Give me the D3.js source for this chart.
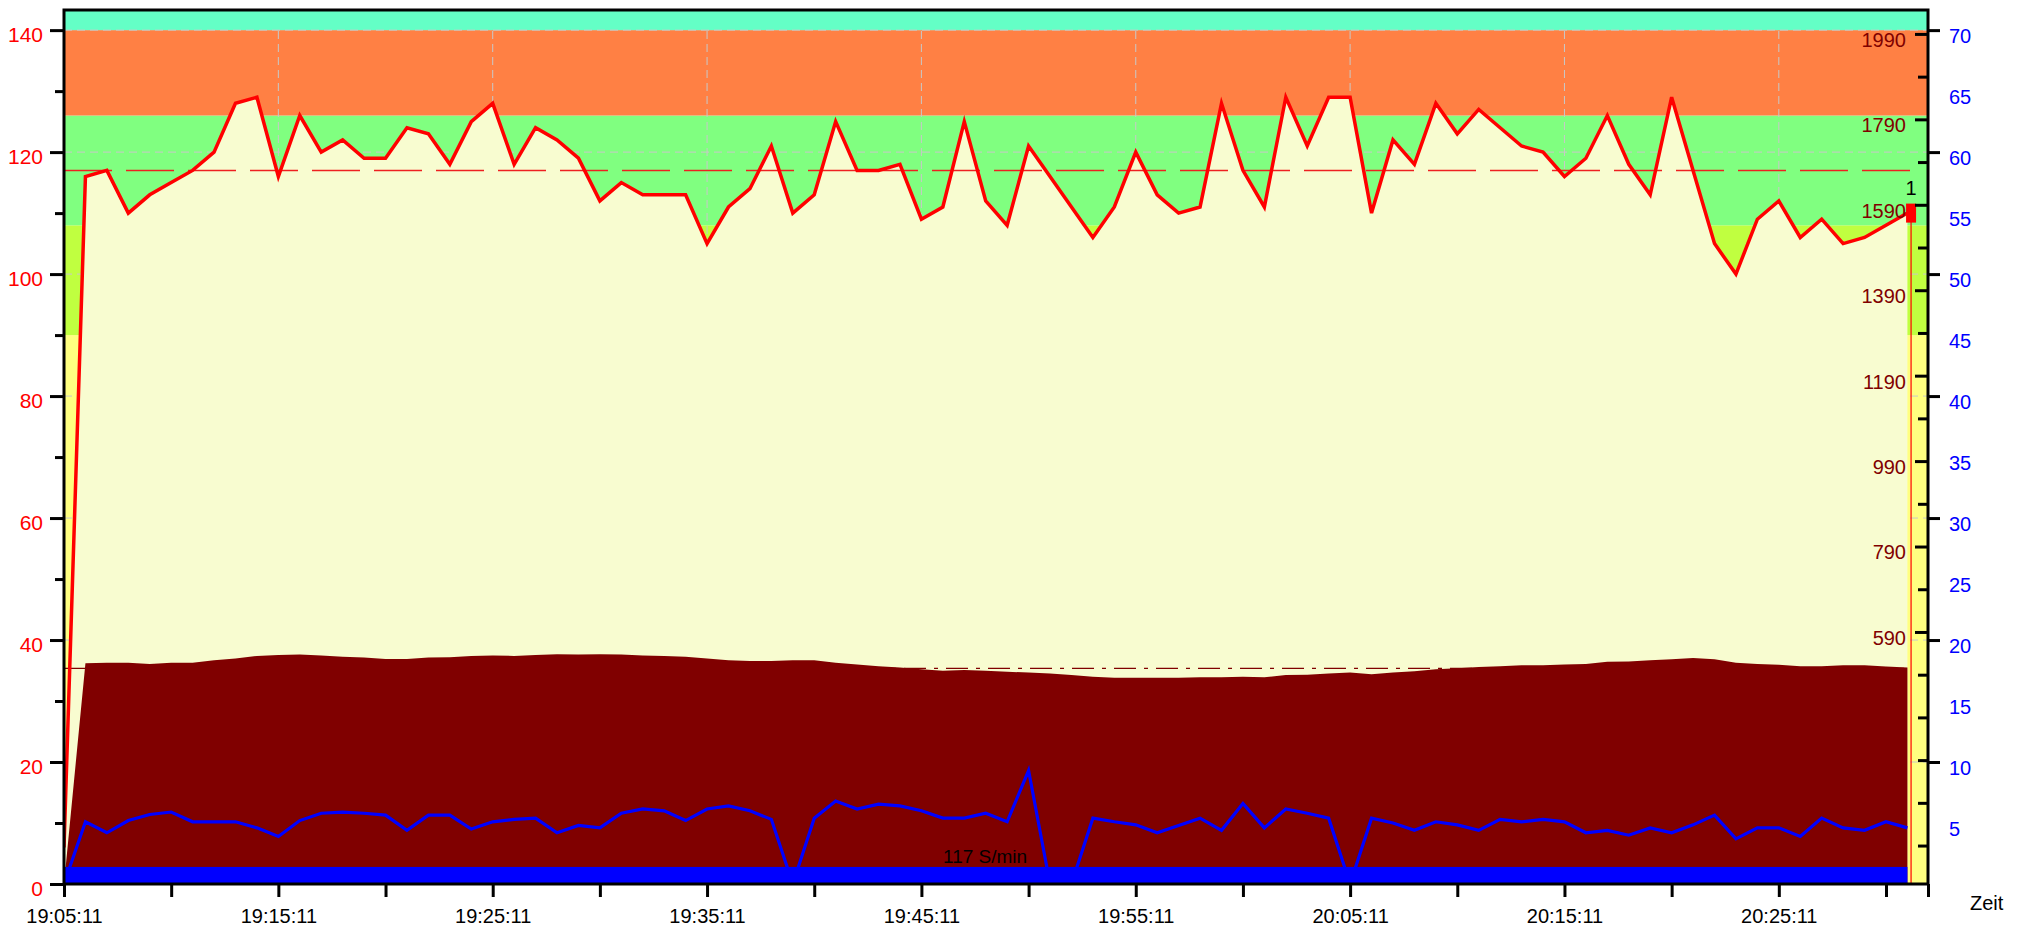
<!DOCTYPE html>
<html>
<head>
<meta charset="utf-8">
<script src="https://cdn.jsdelivr.net/npm/d3@7"></script>
<style>
	body { margin: 0; background: #fff; }
	svg text { font-family: "Liberation Sans", Arial, sans-serif; }
</style>
</head>
<body>
<div id="chart"></div>
<script>
// one sample per minute, starting 19:05:11
var heartRate = [6, 116, 117, 110, 113, 115, 117, 120, 128, 129,
	116, 126, 120, 122, 119, 119, 124, 123, 118, 125,
	128, 118, 124, 122, 119, 112, 115, 113, 113, 113,
	105, 111, 114, 121, 110, 113, 125, 117, 117, 118,
	109, 111, 125, 112, 108, 121, 116, 111, 106, 111,
	120, 113, 110, 111, 128, 117, 111, 129, 121, 129,
	129, 110, 122, 118, 128, 123, 127, 124, 121, 120,
	116, 119, 126, 118, 113, 129, 117, 105, 100, 109,
	112, 106, 109, 105, 106, 108, 110];

var speed = [0, 5.1, 4.2, 5.2, 5.7, 5.9, 5.1, 5.1, 5.1, 4.6,
	3.9, 5.2, 5.8, 5.9, 5.8, 5.65, 4.4, 5.65, 5.65, 4.5,
	5.1, 5.3, 5.4, 4.2, 4.8, 4.6, 5.8, 6.15, 6.0, 5.2,
	6.15, 6.4, 6.0, 5.3, 0, 5.4, 6.8, 6.15, 6.55, 6.4,
	6.0, 5.4, 5.4, 5.8, 5.1, 9.3, 0, 0, 5.4, 5.1,
	4.85, 4.2, 4.8, 5.4, 4.4, 6.6, 4.6, 6.15, 5.8, 5.4,
	0, 5.4, 5.0, 4.4, 5.1, 4.85, 4.4, 5.3, 5.1, 5.3,
	5.1, 4.2, 4.4, 4.0, 4.6, 4.2, 4.85, 5.65, 3.7, 4.6,
	4.6, 3.9, 5.4, 4.6, 4.4, 5.1, 4.6];

var altitude = [0, 517, 518, 518, 515, 518, 518, 524, 528, 534,
	536, 537, 535, 532, 530, 527, 527, 530, 531, 534,
	535, 534, 536, 538, 537, 538, 537, 535, 534, 532,
	528, 524, 522, 522, 524, 524, 518, 514, 510, 507,
	503, 499, 501, 499, 497, 495, 493, 489, 485, 483,
	483, 483, 483, 484, 484, 485, 484, 489, 490, 493,
	495, 491, 495, 498, 503, 505, 508, 510, 512, 512,
	514, 515, 520, 521, 524, 526, 529, 526, 518, 515,
	513, 510, 510, 512, 512, 509, 507];

var avgHeartRate = 117;
var avgAltitude = 505;
var speedBase = 1.4;

var lapMinutes = [86.17];
var lapHeart = [110];
var lapNames = ["1"];

// heart rate zones
var zoneLimits = [0, 90, 108, 126, 140, 143.3];
var zoneColors = ["#ffff80", "#c0ff40", "#80ff80", "#ff8044", "#64ffc6"];

var timeTicks = [0, 5, 10, 15, 20, 25, 30, 35, 40, 45, 50, 55, 60, 65, 70, 75, 80, 85];
var timeLabels = ["19:05:11", "19:15:11", "19:25:11", "19:35:11", "19:45:11", "19:55:11", "20:05:11", "20:15:11", "20:25:11"];
var hrMajor = [0, 20, 40, 60, 80, 100, 120, 140];
var hrMinor = [10, 30, 50, 70, 90, 110, 130];
var altMajor = [590, 790, 990, 1190, 1390, 1590, 1790, 1990];
var altMinor = [90, 190, 290, 390, 490, 690, 890, 1090, 1290, 1490, 1690, 1890];
var speedTicks = [10, 20, 30, 40, 50, 60, 70];
var speedLabels = [5, 10, 15, 20, 25, 30, 35, 40, 45, 50, 55, 60, 65, 70];

function drawChart() {
	var width = 2018,
		height = 929;
	var pLeft = 64, pRight = 1928, pTop = 10, pBottom = 884;
	var tMax = 86.96;

	var svg = d3.select("#chart").append("svg")
		.attr("width", width)
		.attr("height", height);

	svg.append("clipPath")
		.attr("id", "plotClip")
		.append("rect")
			.attr("x", pLeft).attr("y", pTop)
			.attr("width", pRight - pLeft).attr("height", pBottom - pTop);

	var x = d3.scaleLinear().domain([0, tMax]).range([pLeft, pRight]);
	var yHr = d3.scaleLinear().domain([0, 143.3]).range([pBottom, pTop]);
	var ySpeed = d3.scaleLinear().domain([0, 71.65]).range([pBottom, pTop]);
	var yAlt = d3.scaleLinear().domain([0, 2046]).range([pBottom, pTop]);

	var plot = svg.append("g").attr("clip-path", "url(#plotClip)");

	// zone bands
	plot.selectAll("rect.zone")
		.data(zoneColors)
		.enter()
			.append("rect")
			.attr("class", "zone")
			.attr("x", x(0))
			.attr("width", x(tMax) - x(0))
			.attr("y", function(d, i) { return yHr(zoneLimits[i + 1]); })
			.attr("height", function(d, i) { return yHr(zoneLimits[i]) - yHr(zoneLimits[i + 1]); })
			.style("fill", function(d) { return d; });

	// grid
	plot.selectAll("line.hgrid")
		.data(hrMajor.slice(1))
		.enter()
			.append("line")
			.attr("class", "hgrid")
			.attr("x1", x(0)).attr("x2", x(tMax))
			.attr("y1", function(d) { return yHr(d); })
			.attr("y2", function(d) { return yHr(d); })
			.style("stroke", "#c8c8c8")
			.style("stroke-dasharray", "8,5");

	plot.selectAll("line.vgrid")
		.data(timeTicks.filter(function(t) { return t > 0 && t % 10 == 0; }))
		.enter()
			.append("line")
			.attr("class", "vgrid")
			.attr("x1", function(d) { return x(d); })
			.attr("x2", function(d) { return x(d); })
			.attr("y1", yHr(0)).attr("y2", yHr(140))
			.style("stroke", "#c8c8c8")
			.style("stroke-dasharray", "8,5");

	// area under heart rate
	var hrArea = d3.area()
		.x(function(d, i) { return x(i); })
		.y0(yHr(0))
		.y1(function(d) { return yHr(d); });
	plot.append("path")
		.datum(heartRate)
		.attr("d", hrArea)
		.style("fill", "#f8fcd0");

	// average lines
	plot.append("line")
		.attr("x1", x(0)).attr("x2", x(lapMinutes[0]))
		.attr("y1", yHr(avgHeartRate)).attr("y2", yHr(avgHeartRate))
		.style("stroke", "#ee2020")
		.style("stroke-width", 1.5)
		.style("stroke-dasharray", "48,14");

	plot.append("line")
		.attr("x1", x(0)).attr("x2", x(lapMinutes[0]))
		.attr("y1", yAlt(avgAltitude)).attr("y2", yAlt(avgAltitude))
		.style("stroke", "#800000")
		.style("stroke-width", 1.2)
		.style("stroke-dasharray", "22,8,4,8");

	// altitude
	var altArea = d3.area()
		.x(function(d, i) { return x(i); })
		.y0(yAlt(0))
		.y1(function(d) { return yAlt(d); });
	plot.append("path")
		.datum(altitude)
		.attr("d", altArea)
		.style("fill", "#800000");

	// speed
	var speedLine = d3.line()
		.x(function(d, i) { return x(i); })
		.y(function(d) { return ySpeed(d); });
	plot.append("path")
		.datum(speed)
		.attr("d", speedLine)
		.style("fill", "none")
		.style("stroke", "#0000ff")
		.style("stroke-width", 3.2);

	plot.append("rect")
		.attr("x", x(0))
		.attr("width", x(speed.length - 1) - x(0))
		.attr("y", ySpeed(speedBase))
		.attr("height", ySpeed(0) - ySpeed(speedBase))
		.style("fill", "#0000ff");

	plot.append("text")
		.attr("x", 943)
		.attr("y", 863)
		.style("font-size", "19px")
		.style("fill", "#000")
		.text(avgHeartRate + " S/min");

	// heart rate line
	var hrLine = d3.line()
		.x(function(d, i) { return x(i); })
		.y(function(d) { return yHr(d); });
	plot.append("path")
		.datum(heartRate)
		.attr("d", hrLine)
		.style("fill", "none")
		.style("stroke", "#ff0000")
		.style("stroke-width", 3.5);

	// laps
	var laps = svg.selectAll("g.lap")
		.data(lapMinutes)
		.enter()
			.append("g")
			.attr("class", "lap");
	laps.append("line")
		.attr("x1", function(d) { return x(d); })
		.attr("x2", function(d) { return x(d); })
		.attr("y1", function(d, i) { return yHr(lapHeart[i]); })
		.attr("y2", yHr(0))
		.style("stroke", "#ff0000")
		.style("stroke-width", 1.2);
	laps.append("rect")
		.attr("x", function(d) { return x(d) - 5; })
		.attr("y", function(d, i) { return yHr(lapHeart[i]) - 9.5; })
		.attr("width", 10)
		.attr("height", 19)
		.style("fill", "#ff0000");
	laps.append("text")
		.attr("x", function(d) { return x(d); })
		.attr("y", function(d, i) { return yHr(lapHeart[i]) - 18; })
		.attr("text-anchor", "middle")
		.style("font-size", "20px")
		.style("fill", "#000")
		.text(function(d, i) { return lapNames[i]; });

	// frame
	svg.append("rect")
		.attr("x", pLeft).attr("y", pTop)
		.attr("width", pRight - pLeft).attr("height", pBottom - pTop)
		.style("fill", "none")
		.style("stroke", "#000")
		.style("stroke-width", 3);

	function styleAxis(g, color, size) {
		g.select(".domain").remove();
		g.selectAll(".tick line").style("stroke", "#000").style("stroke-width", 3);
		g.selectAll(".tick text").style("fill", color).style("font-size", size).style("font-family", "Liberation Sans, Arial, sans-serif");
	}

	// left axis
	svg.append("g")
		.attr("transform", "translate(" + pLeft + ",0)")
		.call(d3.axisLeft(yHr).tickValues(hrMinor).tickSize(9).tickFormat(""))
		.call(styleAxis, "#ff0000", "21px");
	svg.append("g")
		.attr("transform", "translate(" + pLeft + ",0)")
		.call(d3.axisLeft(yHr).tickValues(hrMajor).tickSize(14).tickPadding(7).tickFormat(d3.format("d")))
		.call(styleAxis, "#ff0000", "21px")
		.selectAll(".tick text").attr("y", 5);

	// bottom axis
	svg.append("g")
		.attr("transform", "translate(0," + pBottom + ")")
		.call(d3.axisBottom(x).tickValues(timeTicks.concat([tMax])).tickSize(13).tickPadding(12)
			.tickFormat(function(d) { return (d % 10 == 0 && d < tMax) ? timeLabels[d / 10] : ""; }))
		.call(styleAxis, "#000", "20px");

	svg.append("text")
		.attr("x", 1970)
		.attr("y", 910)
		.style("font-size", "20px")
		.style("fill", "#000")
		.text("Zeit");

	// altitude axis, inside the right edge
	svg.append("g")
		.attr("transform", "translate(" + pRight + ",0)")
		.call(d3.axisLeft(yAlt).tickValues(altMinor).tickSize(10).tickFormat(""))
		.call(styleAxis, "#800000", "20px");
	svg.append("g")
		.attr("transform", "translate(" + pRight + ",0)")
		.call(d3.axisLeft(yAlt).tickValues(altMajor).tickSize(13).tickPadding(9).tickFormat(d3.format("d")))
		.call(styleAxis, "#800000", "20px")
		.selectAll(".tick text").attr("y", 6);

	// speed axis
	svg.append("g")
		.attr("transform", "translate(" + pRight + ",0)")
		.call(d3.axisRight(ySpeed).tickValues(speedTicks).tickSize(12).tickFormat(""))
		.call(styleAxis, "#0000ff", "20px");
	svg.append("g")
		.attr("transform", "translate(" + pRight + ",0)")
		.call(d3.axisRight(ySpeed).tickValues(speedLabels).tickSize(0).tickPadding(21).tickFormat(d3.format("d")))
		.call(styleAxis, "#0000ff", "20px")
		.selectAll(".tick text").attr("y", 6);
}

drawChart();
</script>
</body>
</html>
